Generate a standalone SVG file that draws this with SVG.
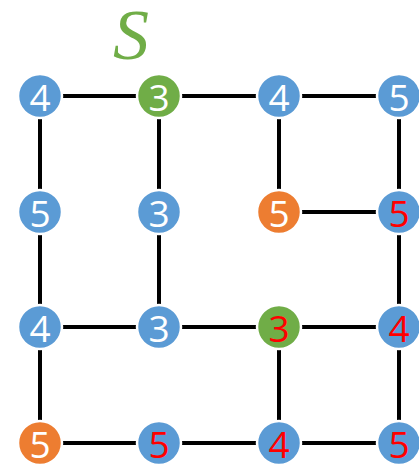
<svg xmlns="http://www.w3.org/2000/svg" width="419" height="465" viewBox="0 0 419 465">
<style>
.e{stroke:#000;stroke-width:4;fill:none}
.n{stroke:#fff;stroke-width:2.5}
.b{fill:#5B9BD5}.g{fill:#70AD47}.o{fill:#ED7D31}
.t{font-family:"Open Sans","Noto Sans",sans-serif;font-size:37px;text-anchor:middle;dominant-baseline:central}
.w{fill:#fff}.r{fill:#FF0000}
</style>
<rect width="419" height="465" fill="#fff"/>
<text x="131" y="59" font-family="Liberation Serif, serif" font-style="italic" font-size="72" fill="#70AD47" text-anchor="middle">S</text>
<g id="edges">
<line class="e" x1="40" y1="96" x2="399" y2="96"/>
<line class="e" x1="40" y1="96" x2="40" y2="443"/>
<line class="e" x1="159" y1="96" x2="159" y2="327"/>
<line class="e" x1="279" y1="96" x2="279" y2="212"/>
<line class="e" x1="399" y1="96" x2="399" y2="443"/>
<line class="e" x1="279" y1="212" x2="399" y2="212"/>
<line class="e" x1="40" y1="327" x2="399" y2="327"/>
<line class="e" x1="279" y1="327" x2="279" y2="443"/>
<line class="e" x1="40" y1="443" x2="399" y2="443"/>
</g>
<g id="n00"><circle class="n b" cx="40" cy="96" r="22"/><text class="t w" x="40" y="96">4</text></g>
<g id="n10"><circle class="n g" cx="159" cy="96" r="22"/><text class="t w" x="159" y="96">3</text></g>
<g id="n20"><circle class="n b" cx="279" cy="96" r="22"/><text class="t w" x="279" y="96">4</text></g>
<g id="n30"><circle class="n b" cx="399" cy="96" r="22"/><text class="t w" x="399" y="96">5</text></g>
<g id="n01"><circle class="n b" cx="40" cy="212" r="22"/><text class="t w" x="40" y="212">5</text></g>
<g id="n11"><circle class="n b" cx="159" cy="212" r="22"/><text class="t w" x="159" y="212">3</text></g>
<g id="n21"><circle class="n o" cx="279" cy="212" r="22"/><text class="t w" x="279" y="212">5</text></g>
<g id="n31"><circle class="n b" cx="399" cy="212" r="22"/><text class="t r" x="399" y="212">5</text></g>
<g id="n02"><circle class="n b" cx="40" cy="327" r="22"/><text class="t w" x="40" y="327">4</text></g>
<g id="n12"><circle class="n b" cx="159" cy="327" r="22"/><text class="t w" x="159" y="327">3</text></g>
<g id="n22"><circle class="n g" cx="279" cy="327" r="22"/><text class="t r" x="279" y="327">3</text></g>
<g id="n32"><circle class="n b" cx="399" cy="327" r="22"/><text class="t r" x="399" y="327">4</text></g>
<g id="n03"><circle class="n o" cx="40" cy="443" r="22"/><text class="t w" x="40" y="443">5</text></g>
<g id="n13"><circle class="n b" cx="159" cy="443" r="22"/><text class="t r" x="159" y="443">5</text></g>
<g id="n23"><circle class="n b" cx="279" cy="443" r="22"/><text class="t r" x="279" y="443">4</text></g>
<g id="n33"><circle class="n b" cx="399" cy="443" r="22"/><text class="t r" x="399" y="443">5</text></g>
</svg>
